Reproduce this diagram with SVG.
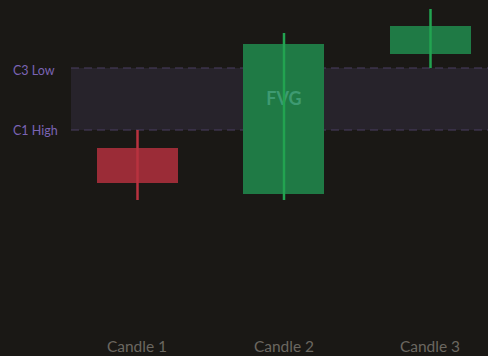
<svg xmlns="http://www.w3.org/2000/svg" width="488" height="356" viewBox="0 0 488 356">
<style>
.zl{stroke:#4a3f63;stroke-width:1.2;stroke-dasharray:8 5;fill:none}
.lvl{font-family:Lato,"Noto Sans",sans-serif;font-size:12.5px;fill:#7a64b4}
.cl{font-family:Lato,"Noto Sans",sans-serif;font-size:15.5px;fill:#6b6760;text-anchor:middle}
.bull{fill:#1f7a45}
.bwick{stroke:#22a350;stroke-width:2.5}
.bear{fill:#9b2c37}
.rwick{stroke:#b8323f;stroke-width:2.5}
</style>
<rect width="488" height="356" fill="#1a1815"/>
<g id="fvg-zone">
<rect x="71" y="68" width="417" height="62" fill="#27232b"/>
<line class="zl" x1="71" y1="68" x2="488" y2="68"/>
<line class="zl" x1="71" y1="130" x2="488" y2="130"/>
<text class="lvl" x="13" y="74.5">C3 Low</text>
<text class="lvl" x="13" y="134.5">C1 High</text>
</g>
<g id="candle1">
<rect class="bear" x="97" y="148" width="81" height="35"/>
<line class="rwick" x1="137.5" y1="130" x2="137.5" y2="200"/>
<text class="cl" x="137" y="352">Candle 1</text>
</g>
<g id="candle2">
<rect class="bull" x="243" y="44" width="81" height="150"/>
<text x="284" y="105" font-family="Lato,'Noto Sans',sans-serif" font-weight="bold" font-size="18" fill="#3e9a72" text-anchor="middle">FVG</text>
<line class="bwick" x1="284" y1="33" x2="284" y2="200"/>
<text class="cl" x="284" y="352">Candle 2</text>
</g>
<g id="candle3">
<rect class="bull" x="390" y="26" width="81" height="28"/>
<line class="bwick" x1="430.5" y1="9" x2="430.5" y2="68"/>
<text class="cl" x="430" y="352">Candle 3</text>
</g>
</svg>
